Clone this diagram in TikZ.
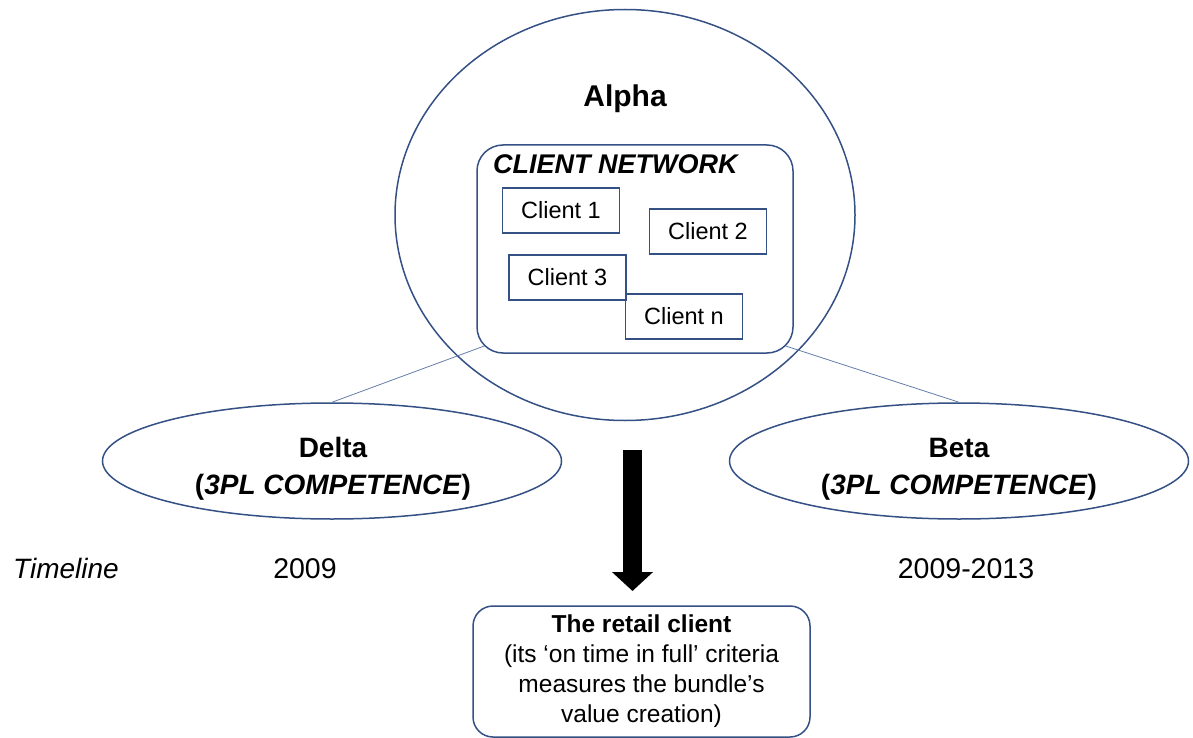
\documentclass[tikz,border=0pt]{standalone}
\usepackage{fontspec}
\setmainfont{Liberation Sans}
\usetikzlibrary{shapes.geometric,arrows.meta,calc}
\definecolor{outl}{RGB}{52,80,132}
\definecolor{thinl}{RGB}{100,125,170}
\begin{document}
\begin{tikzpicture}[x=1pt,y=-1pt,
  outline/.style={draw=outl, line width=1.5pt},
  thinline/.style={draw=thinl, line width=0.8pt},
  clientbox/.style={outline, rectangle, minimum width=117pt, minimum height=45pt, inner sep=0pt, font=\fontsize{23.5}{28}\selectfont},
  oval/.style={outline, ellipse, minimum width=459pt, minimum height=116pt, inner sep=0pt},
  namelbl/.style={anchor=base, inner sep=0pt, font=\bfseries\fontsize{28}{34}\selectfont},
  yearlbl/.style={anchor=base, inner sep=0pt, font=\fontsize{28.5}{34}\selectfont}]
\useasboundingbox (0,0) rectangle (1193,738);
% Alpha
\node[outline, ellipse, minimum width=460pt, minimum height=411pt, inner sep=0pt] (alpha) at (625,215) {};
\node[anchor=base, inner sep=0pt, font=\bfseries\fontsize{30}{36}\selectfont] (alphalbl) at (625,107) {Alpha};
% client network
\node[outline, rectangle, rounded corners=26pt, minimum width=316pt, minimum height=208pt, inner sep=0pt] (net) at (635,249) {};
\node[anchor=west, inner sep=0pt, font=\bfseries\itshape\fontsize{27}{32}\selectfont] (netlbl) at (493,164) {CLIENT NETWORK};
\node[clientbox] (c1) at (561,210.5) {Client 1};
\node[clientbox] (c2) at (708,231.5) {Client 2};
\node[clientbox] (c3) at (567.5,277.5) {Client 3};
\node[clientbox] (cn) at (684,316.5) {Client n};
% competences
\node[oval] (delta) at (332,461) {};
\node[namelbl] (deltaname) at (333,457) {Delta};
\node[namelbl] (deltacomp) at (333,494) {(\textit{3PL COMPETENCE})};
\node[oval] (beta) at (959,461) {};
\node[namelbl] (betaname) at (959,457) {Beta};
\node[namelbl] (betacomp) at (959,494) {(\textit{3PL COMPETENCE})};
\draw[thinline] ($(net.south west)+(7.6,-7.6)$) -- (delta.north);
\draw[thinline] ($(net.south east)+(-7.6,-7.6)$) -- (beta.north);
% timeline
\node[yearlbl, anchor=base west, font=\itshape\fontsize{28}{34}\selectfont] (tl) at (13,578) {Timeline};
\node[yearlbl] (y1) at (305,578) {2009};
\node[yearlbl] (y2) at (966,578) {2009-2013};
% arrow and retail client
\node[outline, rectangle, rounded corners=20pt, minimum width=337pt, minimum height=131pt, inner sep=0pt, align=center, font=\fontsize{24.5}{30}\selectfont] (retail) at (641.5,671.5)
  {\textbf{The retail client}\\(its ‘on time in full’ criteria\\measures the bundle’s\\value creation)};
\coordinate (arrtop) at (632.5,450);
\coordinate (arrtip) at (632.5,591);
\draw[line width=19pt, black, -{Triangle[width=40pt,length=19pt]}] (arrtop) -- (arrtip);
\end{tikzpicture}
\end{document}
